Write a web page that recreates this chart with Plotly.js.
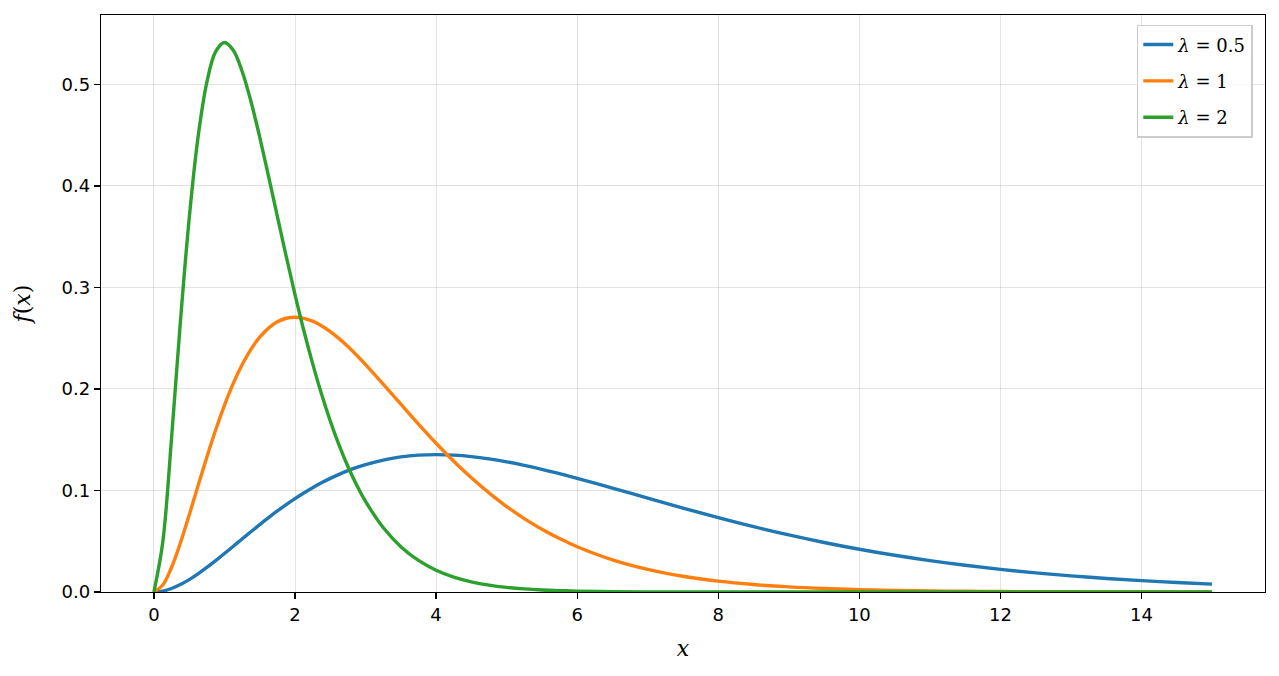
<!DOCTYPE html>
<html>
<head>
<meta charset="utf-8">
<script src="https://cdn.plot.ly/plotly-3.0.1.min.js"></script>
<style>html,body{margin:0;padding:0;background:#fff;}#chart{width:1279px;height:676px;}</style>
</head>
<body>
<div id="chart"></div>
<script>
const xValues = [0,0.125,0.25,0.375,0.5,0.625,0.75,0.875,1,1.125,1.25,1.375,1.5,1.625,1.75,1.875,2,2.125,2.25,2.375,2.5,2.625,2.75,2.875,3,
  3.25,3.5,3.75,4,4.25,4.5,4.75,5,5.25,5.5,5.75,6,
  6.5,7,7.5,8,8.5,9,9.5,10,10.5,11,11.5,12,12.5,13,13.5,14,14.5,15];
const seriesHalf = [0,0.00092,0.00345,0.00729,0.01217,0.01786,0.02416,0.03089,0.03791,0.04507,0.05227,0.05941,0.06643,0.07323,0.07980,0.08604,0.09197,0.09754,0.10274,0.10753,0.11191,0.11589,0.11949,0.12270,0.12550,
  0.12999,0.13307,0.13482,0.13534,0.13479,0.13339,0.13115,0.12825,0.12479,0.12087,0.11659,0.11203,
  0.10238,0.09249,0.08269,0.07328,0.06439,0.05624,0.04880,0.04211,0.03616,0.03091,0.02631,0.02231,0.01885,0.01588,0.01334,0.01117,0.00933,0.00778];
const seriesOne = [0,0.00689,0.02434,0.04833,0.07582,0.10455,0.13286,0.15960,0.18394,0.20548,0.22383,0.23898,0.25099,0.25997,0.26613,0.26965,0.27067,0.26958,0.26679,0.26229,0.25651,0.24958,0.24174,0.23317,0.22404,
  0.20476,0.18498,0.16538,0.14653,0.12878,0.11248,0.09761,0.08422,0.07232,0.06182,0.05262,0.04462,
  0.03175,0.02234,0.01556,0.01073,0.00735,0.00500,0.00338,0.00227,0.00152,0.00101,0.00067,0.00044,0.00029,0.00019,0.000125,0.00008,0.000053,0.000034];
const seriesTwo = [0,0.04868,0.15163,0.26573,0.36788,0.44766,0.50204,0.53226,0.54134,0.53359,0.51303,0.48347,0.44808,0.40951,0.36993,0.33075,0.29305,0.25757,0.22497,0.19521,0.16845,0.14465,0.12363,0.10524,0.08924,
  0.06352,0.04469,0.03111,0.02147,0.01470,0.01000,0.00676,0.00454,0.00304,0.00202,0.00134,0.00088,
  0.00038,0.00016,0.00007,0.00003,0.000012,0.000005,0.000002,0.000001,0,0,0,0,0,0,0,0,0,0];
const seriesNames = ['<i>λ</i> = 0.5', '<i>λ</i> = 1', '<i>λ</i> = 2'];
const seriesColors = ['#1f77b4', '#ff7f0e', '#2ca02c'];
const xTicks = [0,2,4,6,8,10,12,14];
const yTicks = [0,0.1,0.2,0.3,0.4,0.5];
const yTickText = ['0.0','0.1','0.2','0.3','0.4','0.5'];

const allSeries = [seriesHalf, seriesOne, seriesTwo];
const traces = allSeries.map((ys, i) => ({
  x: xValues, y: ys, type: 'scatter', mode: 'lines', name: seriesNames[i],
  legendgroup: 'g' + i,
  line: {color: seriesColors[i], width: 3.4, shape: 'spline', smoothing: 1}
}));

const axisCommon = {
  showline: true, mirror: true, linecolor: '#000', linewidth: 1.2,
  ticks: 'outside', ticklen: 6, tickwidth: 1.2, tickcolor: '#000',
  showgrid: true, gridcolor: 'rgba(176,176,176,0.35)', gridwidth: 1,
  zeroline: false,
  tickfont: {family: 'DejaVu Sans, sans-serif', size: 18, color: '#000'}
};

const layout = {
  width: 1279, height: 676,
  margin: {l: 101, r: 14, t: 15, b: 84},
  paper_bgcolor: '#fff', plot_bgcolor: '#fff',
  showlegend: true,
  xaxis: Object.assign({}, axisCommon, {
    range: [-0.75, 15.75], tickvals: xTicks, ticktext: xTicks.map(String),
    title: {text: '<i>x</i>', font: {family: 'DejaVu Serif, serif', size: 22, color: '#000'}, standoff: 16}
  }),
  yaxis: Object.assign({}, axisCommon, {
    range: [0, 0.5684], tickvals: yTicks, ticktext: yTickText,
    title: {text: '<i>f</i>(<i>x</i>)', font: {family: 'DejaVu Serif, serif', size: 22, color: '#000'}, standoff: 24}
  }),
  legend: {
    x: 0.9895, y: 0.983, xanchor: 'right', yanchor: 'top',
    bgcolor: 'rgba(255,255,255,0.8)', bordercolor: '#cccccc', borderwidth: 1.5,
    font: {family: 'DejaVu Serif, serif', size: 18, color: '#000'},
    traceorder: 'grouped', tracegroupgap: 10
  }
};

Plotly.newPlot('chart', traces, layout, {displayModeBar: false, staticPlot: true});
</script>
</body>
</html>
